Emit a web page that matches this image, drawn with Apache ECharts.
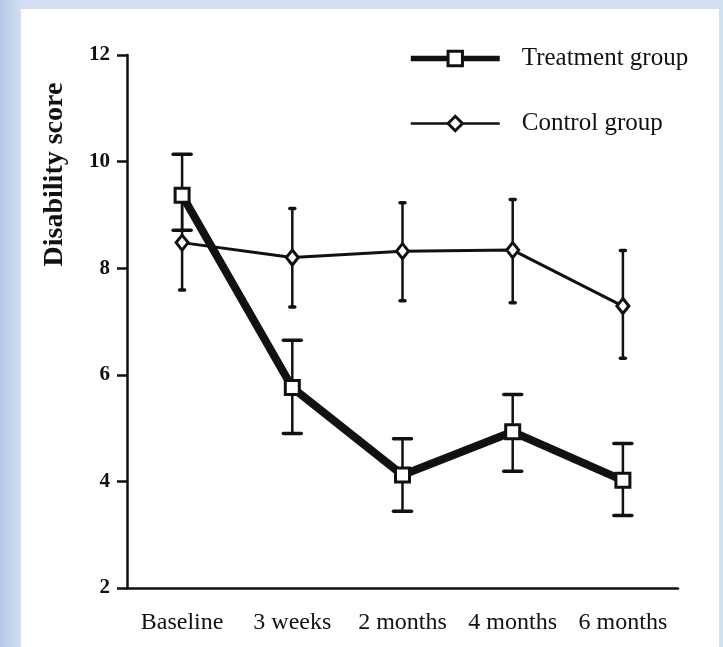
<!DOCTYPE html>
<html><head><meta charset="utf-8">
<script src="https://cdn.jsdelivr.net/npm/echarts@6/dist/echarts.min.js"></script>
<style>
html,body{margin:0;padding:0;}
body{background:linear-gradient(90deg,#b7c9e8 0px,#d2def2 21px,#d2def2 100%);}
#c{width:723px;height:647px;}
</style></head><body><div id="c"></div>
<script>
const categories = ['Baseline', '3 weeks', '2 months', '4 months', '6 months'];
const treatmentMean  = [9.37, 5.76, 4.12, 4.93, 4.02];
const treatmentUpper = [10.14, 6.65, 4.80, 5.63, 4.71];
const treatmentLower = [8.71, 4.90, 3.44, 4.19, 3.36];
const controlMean  = [8.48, 8.20, 8.32, 8.34, 7.29];
const controlUpper = [9.35, 9.12, 9.23, 9.29, 8.33];
const controlLower = [7.59, 7.27, 7.39, 7.35, 6.31];
const yMin = 2, yMax = 12, yInterval = 2;

const INK = '#111';
const serif = 'Liberation Serif';

function errorBars(name, upper, lower, capHalf, lineW, capW) {
  return {
    type: 'custom',
    name: name,
    z: 1,
    silent: true,
    data: categories.map((c, i) => [i, lower[i], upper[i]]),
    encode: { x: 0, y: [1, 2] },
    renderItem: function (params, api) {
      const lo = api.coord([api.value(0), api.value(1)]);
      const hi = api.coord([api.value(0), api.value(2)]);
      const st = { stroke: INK, lineWidth: lineW };
      const cs = { stroke: INK, lineWidth: capW, lineCap: 'round' };
      return {
        type: 'group',
        children: [
          { type: 'line', shape: { x1: hi[0], y1: hi[1], x2: lo[0], y2: lo[1] }, style: st },
          { type: 'line', shape: { x1: hi[0] - capHalf, y1: hi[1], x2: hi[0] + capHalf, y2: hi[1] }, style: cs },
          { type: 'line', shape: { x1: lo[0] - capHalf, y1: lo[1], x2: lo[0] + capHalf, y2: lo[1] }, style: cs }
        ]
      };
    }
  };
}

const chart = echarts.init(document.getElementById('c'), null, { renderer: 'canvas' });
chart.setOption({
  animation: false,
  backgroundColor: 'transparent',
  graphic: [{
    type: 'rect', z: -10, silent: true,
    shape: { x: 21, y: 9, width: 698, height: 640 },
    style: { fill: '#ffffff' }
  }],
  grid: { left: 127, right: 45, top: 55, bottom: 59 },
  legend: {
    orient: 'vertical',
    left: 408, top: 46, padding: 0,
    itemWidth: 89, itemHeight: 18, itemGap: 40,
    textStyle: { fontFamily: serif, fontSize: 25, color: INK, padding: [0, 0, 0, 17] },
    data: [
      { name: 'Treatment group', lineStyle: { width: 5.5, color: INK }, itemStyle: { color: '#fff', borderColor: INK, borderWidth: 3 } },
      { name: 'Control group', lineStyle: { width: 2.5, color: INK }, itemStyle: { color: '#fff', borderColor: INK, borderWidth: 3 } }
    ]
  },
  xAxis: {
    type: 'category',
    data: categories,
    boundaryGap: true,
    axisLine: { lineStyle: { color: INK, width: 2.5 } },
    axisTick: { alignWithLabel: true, length: 12, lineStyle: { color: INK, width: 2.5 } },
    axisLabel: { interval: 0, fontFamily: serif, fontSize: 24, color: INK, margin: 23 },
    splitLine: { show: false }
  },
  yAxis: {
    type: 'value',
    min: yMin, max: yMax, interval: yInterval,
    name: 'Disability score',
    nameLocation: 'middle',
    nameRotate: 90,
    nameGap: 58,
    nameTextStyle: { fontFamily: serif, fontSize: 28, fontWeight: 'bold', color: INK, padding: [0, 0, 0, 294] },
    axisLine: { show: true, lineStyle: { color: INK, width: 2.5 } },
    axisTick: { show: true, length: 10, lineStyle: { color: INK, width: 2.5 } },
    axisLabel: { fontFamily: serif, fontSize: 21, fontWeight: 'bold', color: INK, margin: 17 },
    splitLine: { show: false }
  },
  series: [
    errorBars('treatmentErr', treatmentUpper, treatmentLower, 9, 2.5, 3.5),
    errorBars('controlErr', controlUpper, controlLower, 2.5, 2.5, 3.5),
    {
      name: 'Control group', type: 'line', data: controlMean, z: 3,
      symbol: 'diamond', symbolSize: [12, 15],
      lineStyle: { color: INK, width: 3 },
      itemStyle: { color: '#fff', borderColor: INK, borderWidth: 3 }
    },
    {
      name: 'Treatment group', type: 'line', data: treatmentMean, z: 4,
      symbol: 'rect', symbolSize: 14,
      lineStyle: { color: INK, width: 8 },
      itemStyle: { color: '#fff', borderColor: INK, borderWidth: 3 }
    }
  ]
});
</script></body></html>
